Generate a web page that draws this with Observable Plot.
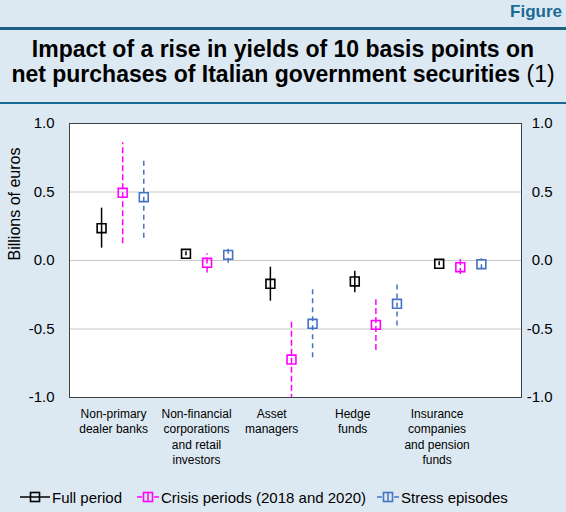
<!DOCTYPE html>
<html><head><meta charset="utf-8">
<script src="https://cdn.jsdelivr.net/npm/d3@7"></script>
<script src="https://cdn.jsdelivr.net/npm/@observablehq/plot@0.6"></script>
<style>
html,body{margin:0;padding:0;}
body{width:566px;height:512px;background:#dde9f2;position:relative;overflow:hidden;font-family:"Liberation Sans",Arial,Helvetica,sans-serif;color:#000;}
#fig{position:absolute;right:4px;top:2px;font-weight:bold;font-size:17px;color:#1b6a92;}
#rule1{position:absolute;left:0;right:0;top:27px;height:2.5px;background:#1b5f82;}
#title{position:absolute;left:0;right:0;top:37px;text-align:center;font-weight:bold;font-size:23px;line-height:25px;white-space:nowrap;}
#title span{font-weight:normal}
#rule2{position:absolute;left:0;right:0;top:102px;height:1.5px;background:#1b6a92;}
#chart{position:absolute;left:0;top:108px;}
.leg{position:absolute;top:487px;font-size:15px;display:flex;align-items:center;height:20px;white-space:nowrap;}
.leg svg{display:block;margin-right:2px;}
</style>
</head><body>
<div id="fig">Figure</div>
<div id="rule1"></div>
<div id="title">Impact of a rise in yields of 10 basis points on<br>net purchases of Italian government securities <span>(1)</span></div>
<div id="rule2"></div>
<div id="chart"></div>
<div id="legend"></div>
<script>
// ---- data ----
const categories = [
  "Non-primary\ndealer banks",
  "Non-financial\ncorporations\nand retail\ninvestors",
  "Asset\nmanagers",
  "Hedge\nfunds",
  "Insurance\ncompanies\nand pension\nfunds"
];
const seriesNames = ["Full period", "Crisis periods (2018 and 2020)", "Stress episodes"];
const fullMid  = [0.236, 0.049, -0.170, -0.153, -0.024];
const fullLow  = [0.090, 0.035, -0.297, -0.236, -0.038];
const fullHigh = [0.382, 0.063, -0.049, -0.078, -0.010];
const crisisMid  = [0.494, -0.017, -0.723, -0.470, -0.049];
const crisisLow  = [0.122, -0.092, -1.020, -0.657, -0.102];
const crisisHigh = [0.859, 0.049, -0.428, -0.287, 0.005];
const stressMid  = [0.462, 0.041, -0.462, -0.316, -0.027];
const stressLow  = [0.163, -0.020, -0.710, -0.479, -0.068];
const stressHigh = [0.754, 0.097, -0.214, -0.161, 0.012];
const yTicks = [-1, -0.5, 0, 0.5, 1];
const gridTicks = [-0.5, 0, 0.5];
const yLabel = "Billions of euros";

// ---- layout / style ----
const colors = ["#000000", "#ff00ff", "#4472c4"];
const dashes = [null, "6,3", "5,4"];
const labelPos = [0.57, 4.5, 8.06, 11.9, 15.9];
const fmt = d => d.toFixed(1);

const mids = [fullMid, crisisMid, stressMid];
const lows = [fullLow, crisisLow, stressLow];
const highs = [fullHigh, crisisHigh, stressHigh];

const marks = [
  Plot.frame({fill: "white", stroke: null}),
  Plot.gridY(gridTicks, {stroke: "#c8c8c8", strokeOpacity: 1}),
  Plot.frame({stroke: "#404040", strokeWidth: 1}),
  Plot.text(yTicks, {y: d => d, frameAnchor: "left", dx: -15, textAnchor: "end", text: fmt, fontSize: 15}),
  Plot.text(yTicks, {y: d => d, frameAnchor: "right", dx: 31, textAnchor: "end", text: fmt, fontSize: 15}),
  Plot.text([yLabel], {frameAnchor: "left", dx: -55, rotate: -90, text: d => d, fontSize: 16}),
  Plot.text(categories, {x: (d, i) => labelPos[i], frameAnchor: "bottom", lineAnchor: "top", dy: 9, text: d => d, fontSize: 12, lineHeight: 1.3, textAnchor: "middle"})
];
seriesNames.forEach((name, j) => {
  const rows = categories.map((c, i) => ({pos: i * 4 + j, mid: mids[j][i], low: lows[j][i], high: highs[j][i]}));
  marks.push(Plot.ruleX(rows, {x: "pos", y1: "low", y2: "high", stroke: colors[j], strokeWidth: 1.5, strokeDasharray: dashes[j], clip: true}));
  marks.push(Plot.dot(rows, {x: "pos", y: "mid", symbol: "square", r: 5, stroke: colors[j], strokeWidth: 1.6, fill: "none"}));
});

const chart = Plot.plot({
  width: 566, height: 359,
  marginLeft: 69, marginRight: 45, marginTop: 15, marginBottom: 70,
  style: {background: "transparent", fontFamily: '"Liberation Sans", Arial, sans-serif', color: "#000", overflow: "visible"},
  x: {domain: [-1.52, 19.9], axis: null},
  y: {domain: [-1, 1], axis: null},
  marks
});
document.getElementById("chart").appendChild(chart);

// ---- legend ----
const legLeft = [20, 137, 377];
const legend = document.getElementById("legend");
seriesNames.forEach((name, j) => {
  const div = document.createElement("div");
  div.className = "leg";
  div.style.left = legLeft[j] + "px";
  const w = j === 0 ? 30 : 22;
  const c = w / 2;
  let lines;
  if (j === 0) {
    lines = `<line x1="0" x2="${w}" y1="10" y2="10" stroke="${colors[j]}" stroke-width="1.5"/>`;
  } else {
    lines = `<line x1="0" x2="5" y1="10" y2="10" stroke="${colors[j]}" stroke-width="1.5"/><line x1="${w-5}" x2="${w}" y1="10" y2="10" stroke="${colors[j]}" stroke-width="1.5"/><line x1="${c}" x2="${c}" y1="5.5" y2="14.5" stroke="${colors[j]}" stroke-width="1.5"/>`;
  }
  div.innerHTML = `<svg width="${w}" height="20">${lines}<rect x="${c-4.5}" y="5.5" width="9" height="9" fill="none" stroke="${colors[j]}" stroke-width="1.6"/></svg><span>${name}</span>`;
  legend.appendChild(div);
});
</script>
</body></html>
